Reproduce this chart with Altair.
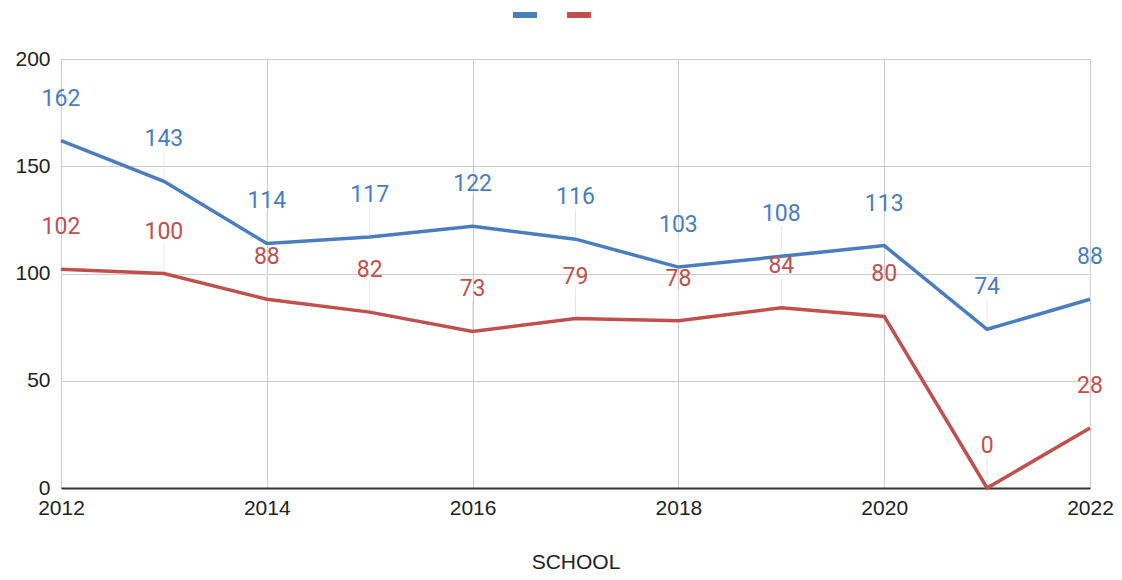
import altair as alt
import pandas as pd

years = [2012, 2013, 2014, 2015, 2016, 2017, 2018, 2019, 2020, 2021, 2022]
series_a = [162, 143, 114, 117, 122, 116, 103, 108, 113, 74, 88]
series_b = [102, 100, 88, 82, 73, 79, 78, 84, 80, 0, 28]
series_names = ["Series A", "Series B"]
colors = ["#4a7dbe", "#c0504d"]
x_ticks = [2012, 2014, 2016, 2018, 2020, 2022]
y_ticks = [0, 50, 100, 150, 200]

rows = []
for name, vals in zip(series_names, [series_a, series_b]):
    for y, v in zip(years, vals):
        rows.append({"year": y, "value": v, "series": name})
df = pd.DataFrame(rows)

FONT = "Roboto"
AXFONT = "Liberation Sans"

x_enc = alt.X("year:Q", scale=alt.Scale(domain=[2012, 2022], nice=False, zero=False),
              axis=alt.Axis(values=x_ticks, format="d", title="SCHOOL",
                            grid=True, gridColor="#cccccc", gridWidth=1,
                            domain=True, domainColor="#333333", domainWidth=2,
                            ticks=False, labelFontSize=21, labelPadding=9,
                            labelFlush=False, labelBound=False, labelOverlap=False,
                            labelColor="#222222", labelFont=AXFONT,
                            titleFont=AXFONT, titleFontSize=21, titleFontWeight="normal",
                            titleColor="#222222", titlePadding=33))
y_enc = alt.Y("value:Q", scale=alt.Scale(domain=[0, 200], nice=False),
              axis=alt.Axis(values=y_ticks, title=None, grid=True, gridColor="#cccccc",
                            gridWidth=1, domain=False, ticks=False, labelFontSize=21,
                            labelPadding=11, labelColor="#222222", labelFont=AXFONT,
                            labelFlush=False, labelOverlap=False))
color_enc = alt.Color("series:N", scale=alt.Scale(domain=series_names, range=colors),
                      legend=alt.Legend(title=None, orient="none", direction="horizontal",
                                        legendX=452, legendY=-56,
                                        symbolType="M-1,-0.25H1V0.25H-1Z", symbolSize=576,
                                        symbolStrokeWidth=0, labelExpr="''", labelFontSize=1,
                                        labelOffset=0, columnPadding=30))

base = alt.Chart(df)

leaders = base.mark_rule(color="#e6e6e6", strokeWidth=1, y2Offset=-30).encode(
    x="year:Q",
    y=alt.Y("value:Q"),
    y2=alt.Y2("value:Q"),
)

lines = base.mark_line(strokeWidth=3.5).encode(
    x=x_enc, y=y_enc, color=color_enc,
)

labels = base.mark_text(dy=-42, fontSize=23, font=FONT).encode(
    x="year:Q", y="value:Q", text="value:Q",
    color=alt.Color("series:N", scale=alt.Scale(domain=series_names, range=colors), legend=None),
)

chart = alt.layer(leaders, lines, labels).properties(
    width=1029, height=429,
    autosize=alt.AutoSizeParams(type="none"),
    padding={"left": 53, "top": 51, "right": 24, "bottom": 84},
).configure_view(stroke=None).configure(font=FONT)

chart.save("out.html", embed_options={"renderer": "svg", "actions": False})
